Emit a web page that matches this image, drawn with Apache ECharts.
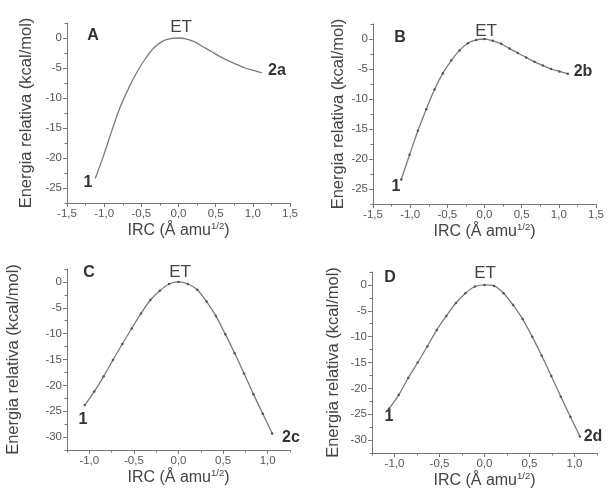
<!DOCTYPE html>
<html><head><meta charset="utf-8">
<script src="https://cdn.jsdelivr.net/npm/echarts@6/dist/echarts.min.js"></script>
<style>html,body{margin:0;padding:0;background:#fff}#c{width:607px;height:497px}</style>
</head><body><div id="c"></div>
<script>
// ---- data ----
var xA = [-1.12,-1.008,-0.896,-0.784,-0.672,-0.56,-0.448,-0.336,-0.224,-0.112,0,0.112,0.224,0.336,0.448,0.56,0.672,0.784,0.896,1.008,1.12];
var yA = [-23.4,-19.6,-15.4,-11.5,-8.4,-5.7,-3.5,-1.7,-0.6,-0.1,0,-0.2,-0.7,-1.5,-2.3,-3.1,-3.8,-4.4,-5.0,-5.4,-5.8];
var xB = [-1.12,-1.008,-0.896,-0.784,-0.672,-0.56,-0.448,-0.336,-0.224,-0.112,0,0.112,0.224,0.336,0.448,0.56,0.672,0.784,0.896,1.008,1.12];
var yB = [-23.4,-19.3,-15.3,-11.7,-8.4,-5.7,-3.6,-1.9,-0.7,-0.15,0,-0.3,-0.8,-1.6,-2.35,-3.1,-3.8,-4.4,-5.0,-5.4,-5.8];
var xC = [-1.05,-0.945,-0.84,-0.735,-0.63,-0.525,-0.42,-0.315,-0.21,-0.105,0,0.105,0.21,0.315,0.42,0.525,0.63,0.735,0.84,0.945,1.05];
var yC = [-23.8,-21.2,-18.3,-15.1,-12.0,-9.0,-6.1,-3.5,-1.7,-0.4,0,-0.4,-1.5,-3.8,-6.6,-10.1,-13.8,-17.7,-21.7,-25.5,-29.3];
var xD = [-1.06,-0.954,-0.848,-0.742,-0.636,-0.53,-0.424,-0.318,-0.212,-0.106,0,0.106,0.212,0.318,0.424,0.53,0.636,0.742,0.848,0.954,1.06];
var yD = [-23.9,-21.3,-18.0,-15.0,-11.9,-8.7,-6.0,-3.5,-1.6,-0.3,0,-0.2,-1.6,-3.9,-6.6,-10.0,-13.7,-17.6,-21.6,-25.5,-29.3];
var xTicksAB = [-1.5,-1.0,-0.5,0,0.5,1.0,1.5];
var xTicksCD = [-1.0,-0.5,0,0.5,1.0];
var yTicksAB = [-25,-20,-15,-10,-5,0];
var yTicksCD = [-30,-25,-20,-15,-10,-5,0];
var yName = 'Energia relativa (kcal/mol)';
var xName = 'IRC (Å amu{sup|1/2})';

var FONT = '"Liberation Sans", Arial, sans-serif';
var AX = '#777', TXT = '#444';
function fmtX(v){ return Number(v).toFixed(1).replace('.', ','); }
function fmtY(v){ return String(Math.round(v)); }

var panels = [
  {grid:{left:67,top:23,width:223,height:180}, xmin:-1.5,xmax:1.5, ymin:-27.5,ymax:2.5, xt:xTicksAB, yt:yTicksAB, x:xA, y:yA, sym:false, yGap:32},
  {grid:{left:373,top:24,width:224,height:180}, xmin:-1.5,xmax:1.5, ymin:-27.5,ymax:2.5, xt:xTicksAB, yt:yTicksAB, x:xB, y:yB, sym:true, yGap:26},
  {grid:{left:67,top:269,width:223,height:181}, xmin:-1.25,xmax:1.25, ymin:-32.5,ymax:2.5, xt:xTicksCD, yt:yTicksCD, x:xC, y:yC, sym:true, yGap:45},
  {grid:{left:372,top:272,width:225,height:181}, xmin:-1.25,xmax:1.25, ymin:-32.5,ymax:2.5, xt:xTicksCD, yt:yTicksCD, x:xD, y:yD, sym:true, yGap:30}
];

var grids=[], xAxes=[], yAxes=[], series=[];
panels.forEach(function(p, i){
  grids.push(p.grid);
  var gi = i;
  xAxes.push({type:'value', gridIndex:gi, min:p.xmin, max:p.xmax, interval:0.25,
    axisLine:{show:true,onZero:false,lineStyle:{color:AX,width:1}},
    axisTick:{show:true,customValues:p.xt,length:4,lineStyle:{color:AX}},
    axisLabel:{customValues:p.xt,formatter:fmtX,color:'#555',fontSize:11.5,fontFamily:FONT,margin:5},
    splitLine:{show:false},
    name:xName,nameLocation:'middle',nameGap:18,
    nameTextStyle:{color:TXT,fontSize:16,fontFamily:FONT,verticalAlign:'top',
      rich:{sup:{fontSize:9.5,fontFamily:FONT,color:TXT,verticalAlign:'top',padding:[0,0,9,0]}}}
  });
  xAxes.push({type:'value', gridIndex:gi, min:p.xmin, max:p.xmax, interval:0.25, position:'bottom',
    axisLine:{show:false,onZero:false}, axisTick:{show:true,length:2.5,lineStyle:{color:AX}}, axisLabel:{show:false}, splitLine:{show:false}});
  yAxes.push({type:'value', gridIndex:gi, min:p.ymin, max:p.ymax, interval:2.5,
    axisLine:{show:true,onZero:false,lineStyle:{color:AX,width:1}},
    axisTick:{show:true,customValues:p.yt,length:4,lineStyle:{color:AX}},
    axisLabel:{customValues:p.yt,formatter:fmtY,color:'#555',fontSize:11.5,fontFamily:FONT,margin:5},
    splitLine:{show:false},
    name:yName,nameLocation:'middle',nameGap:p.yGap,nameRotate:90,
    nameTextStyle:{color:TXT,fontSize:16.5,fontFamily:FONT}
  });
  yAxes.push({type:'value', gridIndex:gi, min:p.ymin, max:p.ymax, interval:2.5, position:'left',
    axisLine:{show:false,onZero:false}, axisTick:{show:true,length:2.5,lineStyle:{color:AX}}, axisLabel:{show:false}, splitLine:{show:false}});
  var pts = p.x.map(function(v, k){ return [v, p.y[k]]; });
  series.push({type:'line', xAxisIndex:2*i, yAxisIndex:2*i, data:pts, smooth:0.3,
    showSymbol:p.sym, symbol:'circle', symbolSize:2.5,
    itemStyle:{color:'#555'}, lineStyle:{color:'#7a7a7a',width:1.3}, animation:false, silent:true});
});

var ann = [
  ['A',93,36,true],['ET',181,27,false],['1',88,183,true],['2a',277,71,true],
  ['B',400,38,true],['ET',486,31,false],['1',396,187,true],['2b',583,72,true],
  ['C',89,273,true],['ET',180,272,false],['1',83,420,true],['2c',291,438,true],
  ['D',390,278,true],['ET',485,273,false],['1',389,417,true],['2d',593,437,true]
];
var graphic = ann.map(function(a){
  return {type:'text', x:a[1], y:a[2], style:{text:a[0], x:0, y:0, align:'center', verticalAlign:'middle',
    fill: a[3] ? '#333' : '#444', font:(a[3]?'bold ':'')+(a[3]?'16px ':'17px ')+FONT}};
});

var chart = echarts.init(document.getElementById('c'), null, {renderer:'canvas'});
chart.setOption({backgroundColor:'#fff', animation:false, grid:grids, xAxis:xAxes, yAxis:yAxes, series:series, graphic:graphic});
</script></body></html>
